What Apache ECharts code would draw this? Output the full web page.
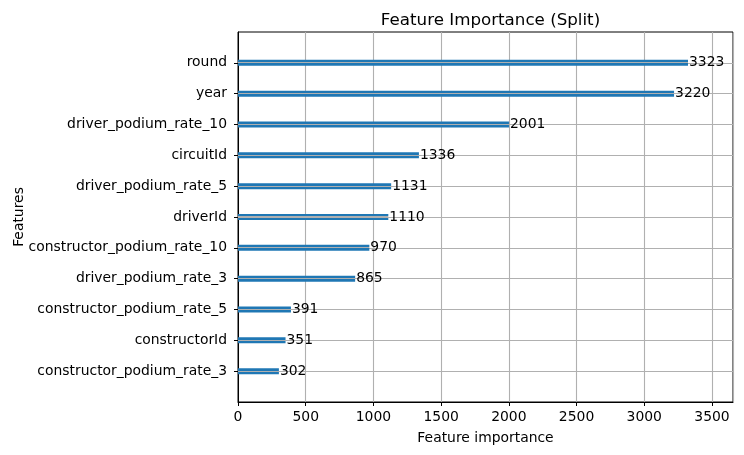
<!DOCTYPE html>
<html>
<head>
<meta charset="utf-8">
<script src="https://cdn.jsdelivr.net/npm/echarts@6/dist/echarts.min.js"></script>
<style>
  html, body { margin: 0; padding: 0; background: #fff; }
  #chart { width: 744px; height: 455px; }
</style>
</head>
<body>
<div id="chart"></div>
<script>
// features, bottom to top (empty ends give the -1 .. n range of the plot)
const features = ["", "constructor_podium_rate_3", "constructorId", "constructor_podium_rate_5",
  "driver_podium_rate_3", "constructor_podium_rate_10", "driverId", "driver_podium_rate_5",
  "circuitId", "driver_podium_rate_10", "year", "round", ""];
const importance = [null, 302, 351, 391, 865, 970, 1110, 1131, 1336, 2001, 3220, 3323, null];

const xMax = 3323 * 1.1;
const font = "DejaVu Sans";
const fs = 13.9; // 10pt at 100 dpi

let myChart = echarts.init(document.getElementById("chart"));
let option = {
  backgroundColor: "#fff",
  animation: false,
  title: {
    text: "Feature Importance (Split)",
    left: 485.5,
    textAlign: "center",
    top: 7,
    textStyle: { fontFamily: font, fontSize: 16.7, fontWeight: "normal", color: "#000" }
  },
  grid: { // same box as the matplotlib axes
    left: 238, right: 11, top: 32, bottom: 53,
    outerBoundsMode: "none",
    containLabel: false,
    show: true, borderColor: "#000", borderWidth: 1, backgroundColor: "transparent"
  },
  xAxis: {
    type: "value",
    min: 0,
    max: xMax,
    interval: 500,
    name: "Feature importance",
    nameLocation: "middle",
    nameGap: 29,
    nameMoveOverlap: false,
    nameTextStyle: { fontFamily: font, fontSize: fs, color: "#000" },
    axisLine: { show: true, lineStyle: { color: "#000", width: 1 } },
    axisTick: { show: true, length: 4, lineStyle: { color: "#000" } },
    axisLabel: { fontFamily: font, fontSize: fs, color: "#000", margin: 8, showMaxLabel: false,
      formatter: v => String(v) },
    splitLine: { show: true, lineStyle: { color: "#b0b0b0", width: 1.1 } }
  },
  yAxis: {
    type: "category",
    data: features,
    boundaryGap: false,
    name: "Features",
    nameLocation: "middle",
    nameRotate: 90,
    nameGap: 212,
    nameMoveOverlap: false,
    nameTextStyle: { fontFamily: font, fontSize: fs, color: "#000" },
    axisLine: { show: true, lineStyle: { color: "#000", width: 1 } },
    axisTick: { show: true, length: 4, interval: (i, v) => v !== "", lineStyle: { color: "#000" } },
    axisLabel: { fontFamily: font, fontSize: fs, color: "#000", margin: 11 },
    splitLine: { show: true, interval: (i, v) => v !== "", lineStyle: { color: "#b0b0b0", width: 1.1 } }
  },
  series: [
    {
      type: "bar",
      data: importance,
      barWidth: 6,
      itemStyle: { // blue bar with the grey grid line showing through its middle
        color: {
          type: "linear", x: 0, y: 0, x2: 0, y2: 1,
          colorStops: [
            { offset: 0, color: "#1f77b4" },
            { offset: 0.4, color: "#1f77b4" },
            { offset: 0.4, color: "#b0b0b0" },
            { offset: 0.6, color: "#b0b0b0" },
            { offset: 0.6, color: "#1f77b4" },
            { offset: 1, color: "#1f77b4" }
          ]
        }
      },
      label: {
        show: true,
        position: "right",
        distance: 1,
        fontFamily: font,
        fontSize: fs,
        color: "#000"
      }
    }
  ]
};
myChart.setOption(option);
</script>
</body>
</html>
